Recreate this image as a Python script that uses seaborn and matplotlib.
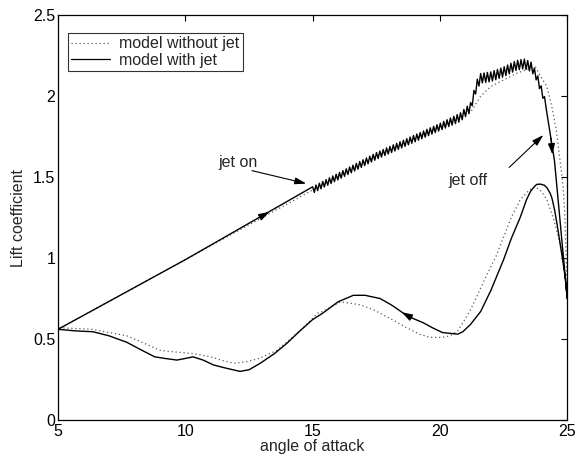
import numpy as np
import pandas as pd
import matplotlib
matplotlib.use("Agg")
import matplotlib.pyplot as plt
from matplotlib.lines import Line2D
import seaborn as sns

# ---------------- data ----------------
# upstroke (with jet), base line
up_jet_x = [5, 10, 15, 17.5, 20, 20.8, 21.2, 21.45, 21.6, 22.0, 22.5, 23.0, 23.3, 23.6, 23.8, 24.0, 24.2]
up_jet_y = [0.56, 0.99, 1.42, 1.63, 1.81, 1.87, 1.93, 2.07, 2.11, 2.12, 2.15, 2.19, 2.20, 2.18, 2.12, 2.03, 1.93]
# stall drop (with jet)
drop_jet_x = [24.2, 24.35, 24.5, 25.0]
drop_jet_y = [1.93, 1.75, 1.60, 0.75]
# downstroke (with jet)
down_jet_x = [25.0, 24.92, 24.82, 24.72, 24.6, 24.5, 24.4, 24.33, 24.2, 24.1, 23.94, 23.8, 23.7, 23.55, 23.4,
              23.15, 22.8, 22.5, 22.0, 21.6, 21.2,
              20.9, 20.7, 20.4, 20.1, 19.7, 19.35, 18.9, 18.56, 18.1, 17.65, 17.06, 16.6, 16.0, 15.4, 15.0,
              14.5, 14.0, 13.5, 12.94, 12.5, 12.15, 11.6, 11.1, 10.7, 10.3, 10.0, 9.67, 9.2, 8.8, 8.3, 7.7,
              7.0, 6.37, 5.7, 5.0]
down_jet_y = [0.75, 0.88, 0.99, 1.09, 1.21, 1.30, 1.37, 1.40, 1.435, 1.45, 1.457, 1.455, 1.44, 1.41, 1.36,
              1.25, 1.12, 0.99, 0.80, 0.67, 0.59,
              0.545, 0.53, 0.535, 0.54, 0.57, 0.60, 0.63, 0.66, 0.71, 0.75, 0.77, 0.77, 0.73, 0.66, 0.62,
              0.55, 0.475, 0.41, 0.35, 0.31, 0.30, 0.32, 0.34, 0.37, 0.39, 0.38, 0.37, 0.38, 0.39, 0.43, 0.48,
              0.52, 0.545, 0.55, 0.56]
# jet oscillation amplitude along the upstroke
osc_x = [15, 20, 21.5, 23.5, 24.2]
osc_amp = [0.02, 0.022, 0.03, 0.03, 0.02]
osc_half_period = 0.066

# without jet
up_nojet_x = [5, 10, 15, 17.5, 20, 20.8, 21.2, 21.6, 22.0, 22.5, 23.0, 23.5, 23.75, 24.0, 24.2, 24.4,
              24.57, 24.72, 24.84, 24.9, 24.96, 25.0]
up_nojet_y = [0.56, 0.99, 1.42, 1.63, 1.81, 1.87, 1.90, 2.00, 2.06, 2.10, 2.14, 2.17, 2.18, 2.11, 2.06, 1.93,
              1.79, 1.60, 1.44, 1.28, 1.00, 0.75]
down_nojet_x = [25.0, 24.85, 24.65, 24.45, 24.2, 24.0, 23.74, 23.5, 23.15, 22.8, 22.5, 22.2, 21.85, 21.5, 21.2, 20.9,
                20.7, 20.4, 20.1, 19.6, 19.2, 18.7, 18.0, 17.4, 16.9, 16.5, 16.1, 15.4, 15.2, 14.7, 14.2,
                13.6, 12.9, 12.4, 11.9, 11.4, 11.0, 10.3, 9.6, 9.0, 8.3, 7.7, 7.0, 6.37, 5.0]
down_nojet_y = [0.75, 0.99, 1.13, 1.25, 1.36, 1.41, 1.44, 1.42, 1.36, 1.25, 1.13, 1.01, 0.90, 0.78, 0.68, 0.60,
                0.55, 0.52, 0.51, 0.51, 0.53, 0.57, 0.63, 0.68, 0.71, 0.72, 0.73, 0.67, 0.66, 0.58, 0.51,
                0.43, 0.38, 0.36, 0.35, 0.37, 0.39, 0.41, 0.42, 0.43, 0.48, 0.52, 0.54, 0.56, 0.57]

x_ticks = [5, 10, 15, 20, 25]
y_ticks = [0, 0.5, 1, 1.5, 2, 2.5]
y_tick_labels = ["0", "0.5", "1", "1.5", "2", "2.5"]

# ---------------- style ----------------
sns.set_style("white")
plt.rcParams["font.family"] = ["Liberation Sans", "DejaVu Sans"]
FS = 11.5
plt.rcParams["font.size"] = FS

fig = plt.figure(figsize=(5.8, 4.61), dpi=100)
ax = fig.add_axes([0.1, 0.089, 0.878, 0.878])

# ---------------- build paths ----------------
nojet_x = up_nojet_x + down_nojet_x[1:]
nojet_y = up_nojet_y + down_nojet_y[1:]

# with jet: linear part until jet on, then oscillating part
zx = np.arange(15.0, 24.2 + 1e-9, osc_half_period)
zbase = np.interp(zx, up_jet_x, up_jet_y)
zamp = np.interp(zx, osc_x, osc_amp)
sign = np.where(np.arange(len(zx)) % 2 == 0, 1.0, -1.0)
zy = zbase + sign * zamp

jet_x = [5, 10] + list(zx) + drop_jet_x[1:] + down_jet_x[1:]
jet_y = [0.56, 0.99] + list(zy) + drop_jet_y[1:] + down_jet_y[1:]

df_nojet = pd.DataFrame({"alpha": nojet_x, "cl": nojet_y})
df_jet = pd.DataFrame({"alpha": jet_x, "cl": jet_y})

sns.lineplot(data=df_nojet, x="alpha", y="cl", sort=False, estimator=None, ax=ax,
             color="0.35", linestyle=(0, (1, 2.2)), linewidth=0.9)
sns.lineplot(data=df_jet, x="alpha", y="cl", sort=False, estimator=None, ax=ax,
             color="black", linewidth=1.0)

# direction arrowheads on the curves
def head(x0, y0, x1, y1):
    ax.annotate("", xy=(x1, y1), xytext=(x0, y0),
                arrowprops=dict(arrowstyle="-|>,head_length=0.55,head_width=0.18",
                                color="black", lw=0.9, shrinkA=0, shrinkB=0))

head(12.9, 1.25, 13.3, 1.285)
head(24.36, 1.74, 24.42, 1.64)
head(18.9, 0.63, 18.5, 0.665)

# annotations
ax.text(11.3, 1.59, "jet on", ha="left", va="center", fontsize=FS)
ax.annotate("", xy=(14.75, 1.46), xytext=(12.62, 1.54),
            arrowprops=dict(arrowstyle="-|>,head_length=0.6,head_width=0.18",
                            color="black", lw=0.8, shrinkA=0, shrinkB=0))
ax.text(20.35, 1.48, "jet off", ha="left", va="center", fontsize=FS)
ax.annotate("", xy=(24.06, 1.76), xytext=(22.72, 1.56),
            arrowprops=dict(arrowstyle="-|>,head_length=0.6,head_width=0.18",
                            color="black", lw=0.8, shrinkA=0, shrinkB=0))

# axes
ax.set_xlim(5, 25)
ax.set_ylim(0, 2.5)
ax.set_xticks(x_ticks)
ax.set_yticks(y_ticks)
ax.set_yticklabels(y_tick_labels)
ax.set_xlabel("angle of attack", fontsize=FS, labelpad=0)
ax.set_ylabel("Lift coefficient", fontsize=FS, labelpad=5)
ax.tick_params(direction="in", length=4, width=0.8, top=True, right=True,
               labelsize=FS, pad=2, colors="black")
ax.tick_params(axis="x", pad=3)
for s in ax.spines.values():
    s.set_visible(True)
    s.set_color("black")
    s.set_linewidth(0.9)

handles = [Line2D([], [], color="0.35", linestyle=(0, (1, 2.2)), linewidth=0.9),
           Line2D([], [], color="black", linewidth=0.9)]
leg = ax.legend(handles, ["model without jet", "model with jet"], loc="upper left",
                bbox_to_anchor=(0.02, 0.956), borderaxespad=0, frameon=True, fancybox=False,
                edgecolor="black", handlelength=2.4, handletextpad=0.6, borderpad=0.2,
                labelspacing=0.1, fontsize=FS)
leg.get_frame().set_linewidth(0.8)

fig.savefig("out.png", dpi=100, facecolor="white")
